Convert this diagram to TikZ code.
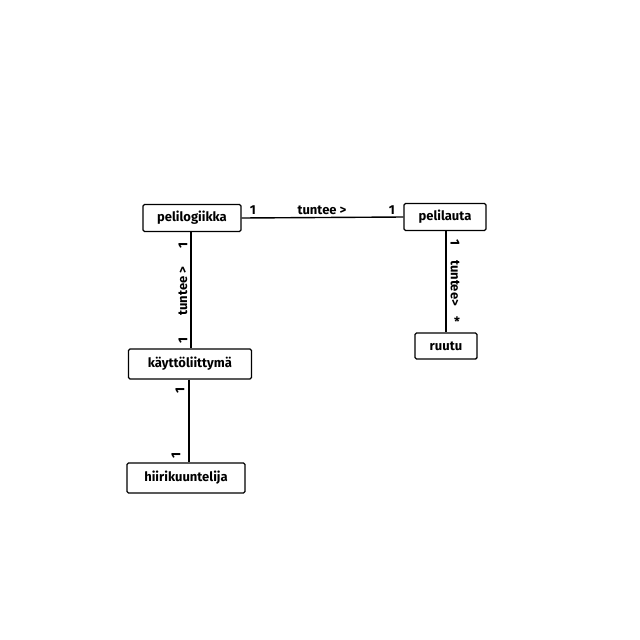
\documentclass[tikz,border=0pt]{standalone}
\usepackage{fontspec}
\setmainfont{Fira Sans}
\begin{document}
\begin{tikzpicture}[x=1pt,y=-1pt,
  cls/.style={draw,line width=1.4pt,rounded corners=1.5pt,inner sep=0pt,font=\fontsize{13}{15}\selectfont\bfseries},
  lnk/.style={line width=1.4pt},
  lbl/.style={font=\fontsize{13}{15}\selectfont\bfseries,inner sep=0pt}]
\useasboundingbox (0,0) rectangle (640,640);
\node[cls,minimum width=98pt,minimum height=27pt] (logic) at (192,218) {pelilogiikka};
\node[cls,minimum width=82pt,minimum height=27pt] (board) at (445,217) {pelilauta};
\node[cls,minimum width=62pt,minimum height=26pt] (cell) at (446,346) {ruutu};
\node[cls,minimum width=123pt,minimum height=30pt] (ui) at (190,364) {käyttöliittymä};
\node[cls,minimum width=118pt,minimum height=30pt] (mouse) at (186,478) {hiirikuuntelija};
\draw[lnk] (logic.east) -- (board.west);
\draw[lnk] (logic.south -| 191,0) -- (ui.north -| 191,0);
\draw[lnk] (board.south -| 446,0) -- (cell.north -| 446,0);
\draw[lnk] (ui.south -| 189,0) -- (mouse.north -| 189,0);
\node[lbl] (l1) at (253,210) {1};
\node[lbl] (l2) at (322,210) {tuntee >};
\node[lbl] (l3) at (392,210) {1};
\node[lbl,rotate=90] (l4) at (183,245) {1};
\node[lbl,rotate=90] (l5) at (183,291) {tuntee >};
\node[lbl,rotate=90] (l6) at (183,340) {1};
\node[lbl,rotate=-90] (l7) at (455,243) {1};
\node[lbl,rotate=-90] (l8) at (455,283) {tuntee>};
\node[lbl] (l9) at (457,322) {*};
\node[lbl,rotate=90] (l10) at (180,390) {1};
\node[lbl,rotate=90] (l11) at (176,455) {1};
\end{tikzpicture}
\end{document}
